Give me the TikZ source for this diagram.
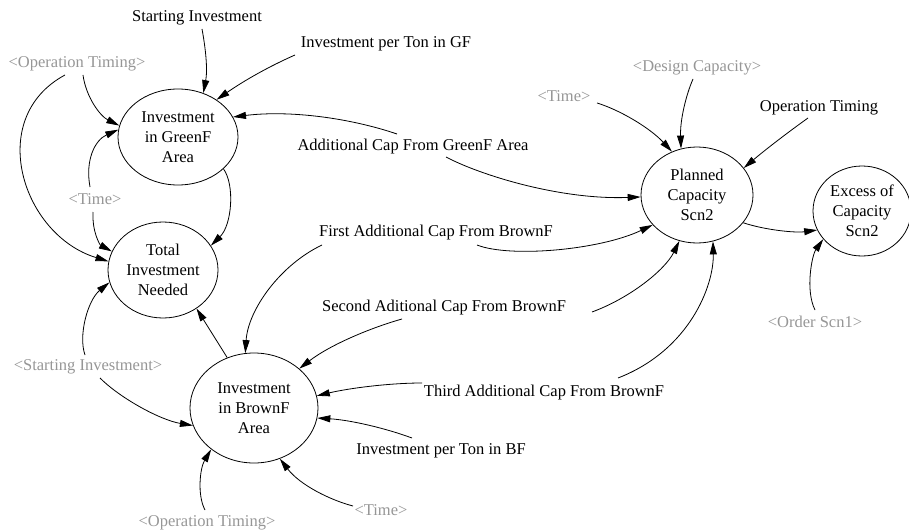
\documentclass[tikz,border=0pt]{standalone}
\usepackage{fontspec}
\setmainfont{Liberation Serif}
\usetikzlibrary{shapes.geometric,arrows.meta}
\definecolor{shadowtxt}{RGB}{150,150,150}
\newcommand\diagfont{\fontsize{16.5}{20}\selectfont}
\begin{document}
\begin{tikzpicture}[x=1pt,y=-1pt,
  var/.style={ellipse,draw,line width=0.8pt,inner sep=0pt,align=center,font=\diagfont},
  lbl/.style={inner sep=0pt,font=\diagfont,text height=11pt,text depth=3.5pt},
  shadowvar/.style={lbl,text=shadowtxt},
  link/.style={line width=0.8pt,-{Triangle[length=13pt,width=7pt]}},
]
\useasboundingbox (0,0) rectangle (909,532);

% auxiliary variables (ellipses)
\node[var,minimum width=120pt,minimum height=96pt]  (iga) at (178,137) {Investment\\in GreenF\\Area};
\node[var,minimum width=110pt,minimum height=96pt]  (tin) at (163,270) {Total\\Investment\\Needed};
\node[var,minimum width=128pt,minimum height=110pt] (iba) at (254,408) {Investment\\in BrownF\\Area};
\node[var,minimum width=112pt,minimum height=96pt]  (pcs) at (697,195) {Planned\\Capacity\\Scn2};
\node[var,minimum width=98pt,minimum height=90pt]   (ecs) at (862,211) {Excess of\\Capacity\\Scn2};

% plain variables
\node[lbl] (si)     at (197,18)  {Starting Investment};
\node[lbl] (iptg)   at (386,44)  {Investment per Ton in GF};
\node[lbl] (acg)    at (413,147) {Additional Cap From GreenF Area};
\node[lbl] (ot)     at (819,108) {Operation Timing};
\node[lbl] (first)  at (436,233) {First Additional Cap From BrownF};
\node[lbl] (second) at (444,308) {Second Aditional Cap From BrownF};
\node[lbl] (third)  at (544,393) {Third Additional Cap From BrownF};
\node[lbl] (iptb)   at (441,451) {Investment per Ton in BF};

% shadow variables
\node[shadowvar] (otg1)  at (77,64)   {<Operation Timing>};
\node[shadowvar] (time1) at (95,201)  {<Time>};
\node[shadowvar] (time2) at (564,98)  {<Time>};
\node[shadowvar] (dc)    at (697,68)  {<Design Capacity>};
\node[shadowvar] (si2)   at (88,367)  {<Starting Investment>};
\node[shadowvar] (time3) at (381,512) {<Time>};
\node[shadowvar] (otg2)  at (207,523) {<Operation Timing>};
\node[shadowvar] (order) at (815,324) {<Order Scn1>};

% links into Investment in GreenF Area
\draw[link] ([shift={(5,11)}]si.center) .. controls (205,45) and (208,68) .. (iga.60);
\draw[link] ([shift={(-91,11)}]iptg.center) .. controls (270,66) and (245,80) .. (iga.44);
\draw[link] ([shift={(6,11)}]otg1.center) .. controls (86,97) and (100,116) .. (iga.169);
\draw[link] ([shift={(-5,-14)}]time1.center) .. controls (85,160) and (95,140) .. (iga.173);
\draw[link] ([shift={(-16,-13)}]acg.center) .. controls (350,118) and (290,110) .. (iga.20);

% links into Total Investment Needed
\draw[link] ([shift={(-12,11)}]otg1.center) .. controls (-15,118) and (22,235) .. (tin.171);
\draw[link] ([shift={(-2,11)}]time1.center) .. controls (92,232) and (100,245) .. (tin.160);
\draw[link] (iga.325) .. controls (235,185) and (232,225) .. (tin.27);
\draw[link] ([shift={(-3,-12)}]si2.center) .. controls (78,335) and (88,300) .. (tin.193);
\draw[link] (iba.118) -- (tin.311);

% links into Planned Capacity Scn2
\draw[link] ([shift={(33,10)}]acg.center) .. controls (480,175) and (560,200) .. (pcs.182);
\draw[link] ([shift={(33,5)}]time2.center) .. controls (620,110) and (650,128) .. (pcs.120);
\draw[link] ([shift={(-4,11)}]dc.center) .. controls (686,95) and (680,120) .. (pcs.109);
\draw[link] ([shift={(-11,10)}]ot.center) .. controls (787,133) and (765,150) .. (pcs.30);
\draw[link] ([shift={(41,12)}]first.center) .. controls (510,258) and (600,250) .. (pcs.214);
\draw[link] ([shift={(148,4)}]second.center) .. controls (630,298) and (665,270) .. (pcs.249);
\draw[link] ([shift={(74,-15)}]third.center) .. controls (690,350) and (714,285) .. (pcs.289);

% links into Investment in BrownF Area
\draw[link] ([shift={(-114,12)}]first.center) .. controls (280,265) and (248,310) .. (iba.99);
\draw[link] ([shift={(-42,11)}]second.center) .. controls (370,328) and (330,345) .. (iba.41);
\draw[link] ([shift={(-122,-10)}]third.center) .. controls (390,383) and (350,388) .. (iba.11);
\draw[link] ([shift={(-29,-13)}]iptb.center) .. controls (385,428) and (350,420) .. (iba.351);
\draw[link] ([shift={(-28,-6)}]time3.center) .. controls (330,500) and (300,485) .. (iba.297);
\draw[link] ([shift={(-2,-13)}]otg2.center) .. controls (197,495) and (200,468) .. (iba.224);
\draw[link] ([shift={(12,11)}]si2.center) .. controls (120,398) and (160,420) .. (iba.196);

% links into Excess of Capacity Scn2
\draw[link] (pcs.329) .. controls (765,230) and (795,233) .. (ecs.203);
\draw[link] ([shift={(0,-14)}]order.center) .. controls (805,290) and (812,255) .. (ecs.216);
\end{tikzpicture}
\end{document}
